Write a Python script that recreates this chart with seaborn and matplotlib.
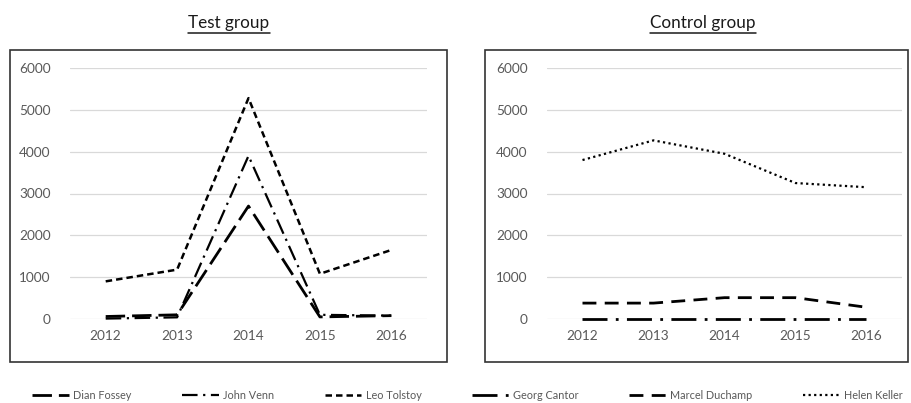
import matplotlib
matplotlib.use("Agg")
import matplotlib.pyplot as plt
import seaborn as sns
import pandas as pd
from matplotlib.lines import Line2D
from matplotlib.patches import Rectangle

years = ["2012", "2013", "2014", "2015", "2016"]

test_names = ["Dian Fossey", "John Venn", "Leo Tolstoy"]
dian_fossey = [60, 100, 2700, 50, 80]
john_venn = [10, 40, 3900, 100, 80]
leo_tolstoy = [900, 1180, 5280, 1080, 1650]

control_names = ["Georg Cantor", "Marcel Duchamp", "Helen Keller"]
georg_cantor = [0, 0, 0, 0, 0]
marcel_duchamp = [380, 380, 510, 510, 280]
helen_keller = [3800, 4270, 3950, 3250, 3150]

yticks = [0, 1000, 2000, 3000, 4000, 5000, 6000]

styles = {
    "Dian Fossey": dict(dashes=(7, 2.5), lw=2.0),
    "John Venn": dict(dashes=(7, 2.5, 1, 2.5), lw=1.6),
    "Leo Tolstoy": dict(dashes=(2.6, 1.6), lw=1.8),
    "Georg Cantor": dict(dashes=(9, 3, 1, 3), lw=2.0),
    "Marcel Duchamp": dict(dashes=(5, 3), lw=2.0),
    "Helen Keller": dict(dashes=(1, 1.5), lw=1.6),
}

sns.set_theme(style="white")
plt.rcParams["font.family"] = ["Lato", "DejaVu Sans"]

fig = plt.figure(figsize=(9.12, 4.03), dpi=100)
W, H = 912, 403

def px_rect(x0, y0, x1, y1):
    return [x0 / W, 1 - y1 / H, (x1 - x0) / W, (y1 - y0) / H]

# outer boxes
for (x0, y0, x1, y1) in [(10, 50, 447, 362), (485, 50, 908, 362)]:
    fig.patches.append(Rectangle((x0 / W, 1 - y1 / H), (x1 - x0) / W, (y1 - y0) / H,
                                 transform=fig.transFigure, fill=False,
                                 edgecolor="#333333", lw=1.2))

ax1 = fig.add_axes(px_rect(70, 68, 427, 319))
ax2 = fig.add_axes(px_rect(547, 68, 902, 319))

panels = [
    (ax1, test_names, [dian_fossey, john_venn, leo_tolstoy]),
    (ax2, control_names, [georg_cantor, marcel_duchamp, helen_keller]),
]

for ax, names, series in panels:
    rows = []
    for n, vals in zip(names, series):
        for y, v in zip(years, vals):
            rows.append({"year": y, "value": v, "name": n})
    df = pd.DataFrame(rows)
    sns.lineplot(data=df, x="year", y="value", style="name",
                 dashes={n: styles[n]["dashes"] for n in names},
                 color="black", ax=ax, legend=False, sort=False)
    for line, n in zip(ax.get_lines(), names):
        line.set_linewidth(styles[n]["lw"])
        line.set_clip_on(False)
    ax.set_xlim(-0.5, 4.5)
    ax.set_ylim(0, 6000)
    ax.set_yticks(yticks)
    ax.grid(axis="y", color="#d9d9d9", lw=0.9)
    ax.set_axisbelow(True)
    for s in ax.spines.values():
        s.set_visible(False)
    ax.set_xlabel("")
    ax.set_ylabel("")
    ax.tick_params(axis="both", length=0, labelsize=9.8, labelcolor="#595959")
    ax.tick_params(axis="x", pad=8)
    ax.tick_params(axis="y", pad=14)

# titles with underline
fig.canvas.draw()
renderer = fig.canvas.get_renderer()
for cx, txt in [(229, "Test group"), (703, "Control group")]:
    t = fig.text(cx / W, 1 - 23 / H, txt, ha="center", va="center",
                 fontsize=12.3, color="#1a1a1a")
    bb = t.get_window_extent(renderer=renderer)
    yline = 1 - 33 / H
    fig.add_artist(Line2D([bb.x0 / W, bb.x1 / W], [yline, yline],
                          transform=fig.transFigure, color="#1a1a1a", lw=1.1))

# legend
order = ["Dian Fossey", "John Venn", "Leo Tolstoy", "Georg Cantor", "Marcel Duchamp", "Helen Keller"]
handles = [Line2D([0], [0], color="black", lw=styles[n]["lw"], dashes=styles[n]["dashes"]) for n in order]
leg = fig.legend(handles, order, loc="lower left",
                 bbox_to_anchor=(30 / W, 1 - 403 / H, (905 - 30) / W, 16 / H),
                 mode="expand", ncol=6, frameon=False, fontsize=7.8, handlelength=3.4,
                 handletextpad=0.4, borderaxespad=0.0, borderpad=0.2)
for t in leg.get_texts():
    t.set_color("#595959")

fig.savefig("out.png", dpi=100)
